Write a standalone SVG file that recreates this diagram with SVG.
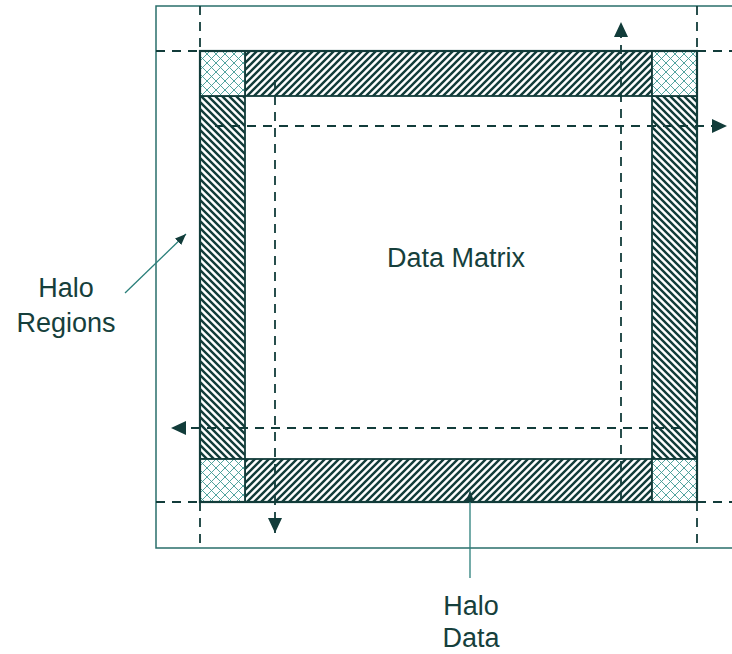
<svg xmlns="http://www.w3.org/2000/svg" width="732" height="654" viewBox="0 0 732 654">
<style>
.frame{fill:none;stroke:#2a6f6b;stroke-width:1.5}
.band{stroke:#123c3a;stroke-width:1.8}
.dash{fill:none;stroke:#123c3a;stroke-width:1.8;stroke-dasharray:9 7}
.thin{fill:none;stroke:#2a7f7a;stroke-width:1.3}
.lbl{font-family:"Liberation Sans",Arial,sans-serif;font-size:27px;fill:#163f3c;text-anchor:middle}
</style>
<defs>
<pattern id="fwd" patternUnits="userSpaceOnUse" width="7" height="7">
<rect width="7" height="7" fill="#fff"/>
<path d="M-2,2 L2,-2 M0,7 L7,0 M5,9 L9,5" stroke="#123c3a" stroke-width="2.4"/>
</pattern>
<pattern id="back" patternUnits="userSpaceOnUse" width="7" height="7">
<rect width="7" height="7" fill="#fff"/>
<path d="M-2,5 L2,9 M0,0 L7,7 M5,-2 L9,2" stroke="#123c3a" stroke-width="2.4"/>
</pattern>
<pattern id="cross" patternUnits="userSpaceOnUse" width="9" height="9">
<rect width="9" height="9" fill="#fff"/>
<path d="M0,0 L9,9 M9,0 L0,9" stroke="#3f9a94" stroke-width="0.9"/>
</pattern>
<marker id="big" markerUnits="userSpaceOnUse" markerWidth="16" markerHeight="16" refX="15" refY="7" orient="auto">
<path d="M0,0 L15,7 L0,14 z" fill="#123c3a"/>
</marker>
<marker id="small" markerUnits="userSpaceOnUse" markerWidth="12" markerHeight="10" refX="11" refY="4.5" orient="auto">
<path d="M0,0 L11,4.5 L0,9 z" fill="#123c3a"/>
</marker>
</defs>
<rect width="732" height="654" fill="#fff"/>

<g id="outer-frame">
<path class="frame" d="M732,6 H156 V548 H732"/>
</g>

<g id="halo-top"><rect class="band" x="245" y="51" width="407" height="45" fill="url(#fwd)"/></g>
<g id="halo-bottom"><rect class="band" x="245" y="459" width="407" height="43" fill="url(#fwd)"/></g>
<g id="halo-left"><rect class="band" x="200" y="96" width="45" height="363" fill="url(#back)"/></g>
<g id="halo-right"><rect class="band" x="652" y="96" width="45" height="363" fill="url(#back)"/></g>
<g id="corner-tl"><rect class="band" x="200" y="51" width="45" height="45" fill="url(#cross)"/></g>
<g id="corner-tr"><rect class="band" x="652" y="51" width="45" height="45" fill="url(#cross)"/></g>
<g id="corner-bl"><rect class="band" x="200" y="459" width="45" height="43" fill="url(#cross)"/></g>
<g id="corner-br"><rect class="band" x="652" y="459" width="45" height="43" fill="url(#cross)"/></g>
<g id="matrix-border"><rect x="200" y="51" width="497" height="451" fill="none" stroke="#123c3a" stroke-width="2.2"/></g>

<g id="connectors">
<path class="dash" d="M156,51 H200 M697,51 H732 M156,502 H200 M697,502 H732"/>
<path class="dash" d="M200,6 V51 M697,6 V51 M200,502 V548 M697,502 V548"/>
<path class="dash" d="M215,126 H727" marker-end="url(#big)"/>
<path class="dash" d="M621,502 V22" marker-end="url(#big)"/>
<path class="dash" d="M275,80 V533" marker-end="url(#big)"/>
<path class="dash" d="M680,428 H171" marker-end="url(#big)"/>
<path class="thin" d="M125,293 L186,234" marker-end="url(#small)"/>
<path class="thin" d="M470,578 V491" marker-end="url(#small)"/>
</g>

<g id="label-data-matrix"><text class="lbl" x="456" y="267">Data Matrix</text></g>
<g id="label-halo-regions"><text class="lbl" x="66" y="297">Halo</text><text class="lbl" x="66" y="332">Regions</text></g>
<g id="label-halo-data"><text class="lbl" x="471" y="615">Halo</text><text class="lbl" x="471" y="647">Data</text></g>
</svg>
